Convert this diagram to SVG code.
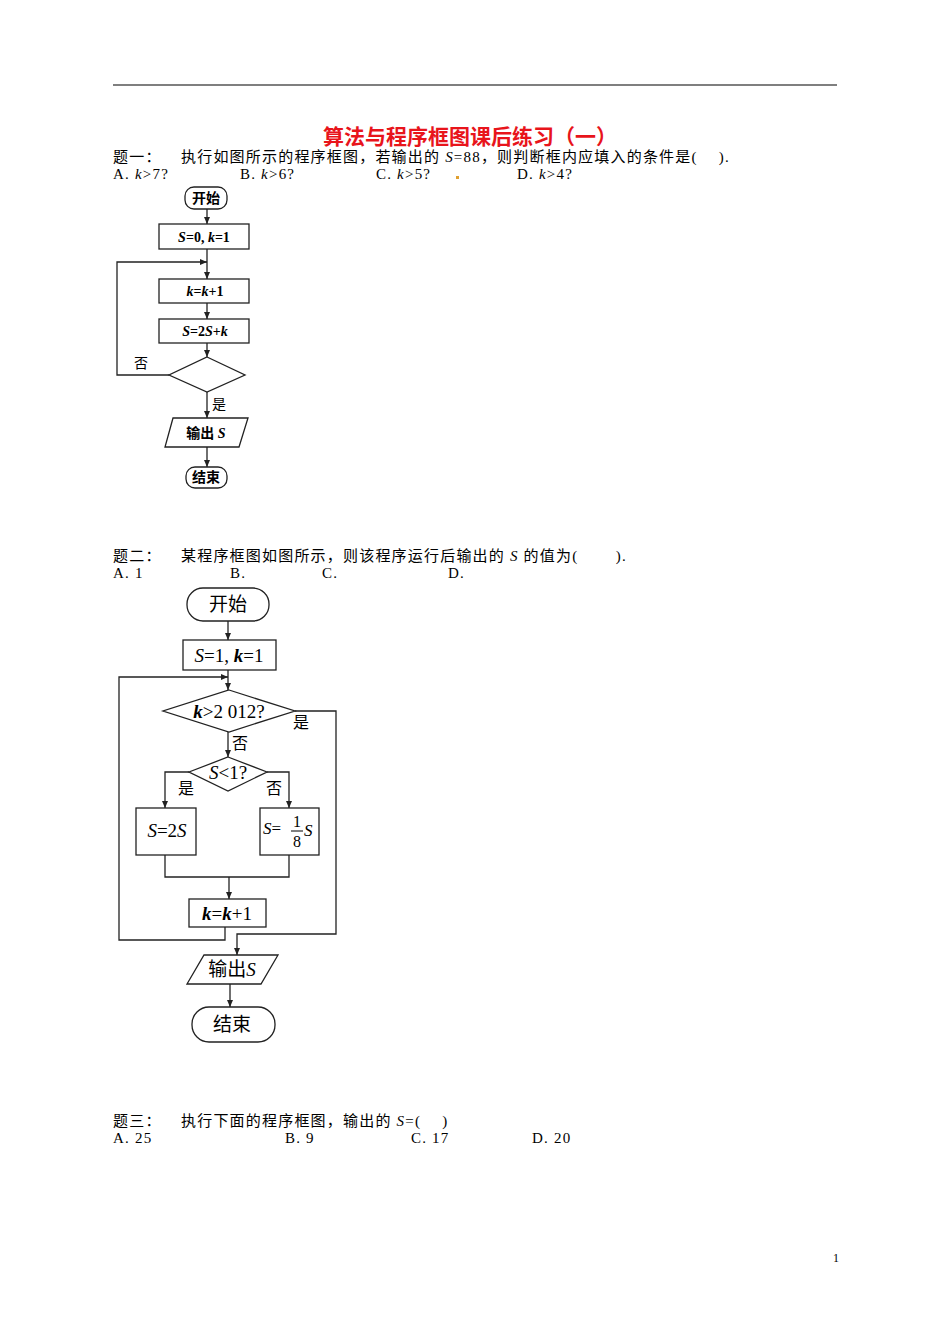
<svg xmlns="http://www.w3.org/2000/svg" width="950" height="1344" viewBox="0 0 950 1344">
<style>
text{font-family:"Liberation Serif","Noto Sans CJK SC",serif;fill:#000}
.b{font-size:15px;letter-spacing:1.2px}
.d1{font-size:14px;font-weight:bold}
.d2{font-size:19px}
.s{fill:#fff;stroke:#222;stroke-width:1.3}
.l{fill:none;stroke:#222;stroke-width:1.3}
</style>
<defs><marker id="a" markerWidth="8" markerHeight="8" refX="7" refY="4" orient="auto" markerUnits="userSpaceOnUse"><path d="M0,1 L7,4 L0,7 Z" fill="#222"/></marker></defs>
<rect width="950" height="1344" fill="#fff"/>
<line x1="113" y1="85" x2="837" y2="85" stroke="#000" stroke-width="1.2"/>
<text x="470" y="144" text-anchor="middle" style="font-size:21px;font-weight:bold;fill:#e8141b">算法与程序框图课后练习（一）</text>
<text class="b" x="113" y="162">题一：</text>
<text class="b" x="181" y="162">执行如图所示的程序框图，若输出的 <tspan font-style="italic">S</tspan>=88，则判断框内应填入的条件是(　  ).</text>
<text class="b" x="113" y="179">A. <tspan font-style="italic">k</tspan>&gt;7?</text>
<text class="b" x="240" y="179">B. <tspan font-style="italic">k</tspan>&gt;6?</text>
<text class="b" x="376" y="179">C. <tspan font-style="italic">k</tspan>&gt;5?</text>
<rect x="456" y="176" width="3" height="3" fill="#e0a030"/>
<text class="b" x="517" y="179">D.  <tspan font-style="italic">k</tspan>&gt;4?</text>

<g id="connectors1">
<line class="l" x1="207" y1="209" x2="207" y2="224" marker-end="url(#a)"/>
<line class="l" x1="207" y1="249" x2="207" y2="279" marker-end="url(#a)"/>
<polyline class="l" points="169,375 117,375 117,262 207,262" marker-end="url(#a)"/>
<line class="l" x1="207" y1="303" x2="207" y2="319" marker-end="url(#a)"/>
<line class="l" x1="207" y1="343" x2="207" y2="357" marker-end="url(#a)"/>
<line class="l" x1="207" y1="392" x2="207" y2="418" marker-end="url(#a)"/>
<line class="l" x1="207" y1="447" x2="207" y2="467" marker-end="url(#a)"/>
<text class="d1" x="134" y="368" style="font-weight:normal">否</text>
<text class="d1" x="212" y="409" style="font-weight:normal">是</text>
</g>
<g id="n1start"><rect class="s" x="185" y="187" width="42" height="22" rx="9"/><text class="d1" x="206" y="203" text-anchor="middle">开始</text></g>
<g id="n1init"><rect class="s" x="159" y="224" width="90" height="25"/><text class="d1" x="204" y="242" text-anchor="middle"><tspan font-style="italic">S</tspan>=0, <tspan font-style="italic">k</tspan>=1</text></g>
<g id="n1k"><rect class="s" x="159" y="279" width="90" height="24"/><text class="d1" x="205" y="296" text-anchor="middle"><tspan font-style="italic">k</tspan>=<tspan font-style="italic">k</tspan>+1</text></g>
<g id="n1s"><rect class="s" x="159" y="319" width="90" height="24"/><text class="d1" x="205" y="336" text-anchor="middle"><tspan font-style="italic">S</tspan>=2<tspan font-style="italic">S</tspan>+<tspan font-style="italic">k</tspan></text></g>
<g id="n1dec"><polygon class="s" points="207,357 245,375 207,392 169,375"/></g>
<g id="n1out"><polygon class="s" points="173,418 248,418 239,447 165,447"/><text class="d1" x="206" y="438" text-anchor="middle">输出 <tspan font-style="italic">S</tspan></text></g>
<g id="n1end"><rect class="s" x="186" y="467" width="41" height="21" rx="9"/><text class="d1" x="206" y="482" text-anchor="middle">结束</text></g>

<text class="b" x="113" y="561">题二：</text>
<text class="b" x="181" y="561">某程序框图如图所示，则该程序运行后输出的 <tspan font-style="italic">S</tspan> 的值为(　　 ).</text>
<text class="b" x="113" y="578">A. 1</text>
<text class="b" x="230" y="578">B.</text>
<text class="b" x="322" y="578">C.</text>
<text class="b" x="448" y="578">D.</text>

<g id="connectors2">
<line class="l" x1="228" y1="621" x2="228" y2="640" marker-end="url(#a)"/>
<line class="l" x1="228" y1="670" x2="228" y2="690" marker-end="url(#a)"/>
<polyline class="l" points="225,927 225,940 119,940 119,677 228,677" marker-end="url(#a)"/>
<polyline class="l" points="295,711 336,711 336,934 237,934 237,955" marker-end="url(#a)"/>
<line class="l" x1="228" y1="732" x2="228" y2="757" marker-end="url(#a)"/>
<polyline class="l" points="189,772 165,772 165,808" marker-end="url(#a)"/>
<polyline class="l" points="267,772 289,772 289,808" marker-end="url(#a)"/>
<polyline class="l" points="165,855 165,877 289,877 289,855"/>
<line class="l" x1="229" y1="877" x2="229" y2="899" marker-end="url(#a)"/>
<line class="l" x1="230" y1="984" x2="230" y2="1007" marker-end="url(#a)"/>
<text class="d2" x="293" y="728" style="font-size:16px">是</text>
<text class="d2" x="232" y="749" style="font-size:16px">否</text>
<text class="d2" x="178" y="794" style="font-size:16px">是</text>
<text class="d2" x="266" y="794" style="font-size:16px">否</text>
</g>
<g id="n2start"><rect class="s" x="187" y="588" width="82" height="33" rx="16"/><text class="d2" x="228" y="611" text-anchor="middle">开始</text></g>
<g id="n2init"><rect class="s" x="183" y="640" width="93" height="30"/><text class="d2" x="229" y="662" text-anchor="middle"><tspan font-style="italic">S</tspan>=1, <tspan font-style="italic" font-weight="bold">k</tspan>=1</text></g>
<g id="n2dec1"><polygon class="s" points="229,690 295,711 229,732 163,711"/><text class="d2" x="229" y="718" text-anchor="middle"><tspan font-style="italic" font-weight="bold">k</tspan>&gt;2 012?</text></g>
<g id="n2dec2"><polygon class="s" points="228,757 267,772 228,791 189,772"/><text class="d2" x="228" y="779" text-anchor="middle"><tspan font-style="italic">S</tspan>&lt;1?</text></g>
<g id="n2s2"><rect class="s" x="136" y="808" width="60" height="47"/><text class="d2" x="167" y="837" text-anchor="middle"><tspan font-style="italic">S</tspan>=2<tspan font-style="italic">S</tspan></text></g>
<g id="n2s8"><rect class="s" x="260" y="808" width="59" height="47"/><text class="d2" x="263" y="834" style="font-size:17px"><tspan font-style="italic">S</tspan>=</text><text class="d2" x="297" y="827" text-anchor="middle" style="font-size:16px">1</text><line x1="291" y1="831" x2="303" y2="831" stroke="#000" stroke-width="1"/><text class="d2" x="297" y="847" text-anchor="middle" style="font-size:16px">8</text><text class="d2" x="304" y="836" style="font-size:17px;font-style:italic">S</text></g>
<g id="n2k"><rect class="s" x="189" y="899" width="77" height="28"/><text class="d2" x="227" y="920" text-anchor="middle"><tspan font-style="italic" font-weight="bold">k</tspan>=<tspan font-style="italic" font-weight="bold">k</tspan>+1</text></g>
<g id="n2out"><polygon class="s" points="204,955 278,955 261,984 187,984"/><text class="d2" x="232" y="976" text-anchor="middle">输出<tspan font-style="italic">S</tspan></text></g>
<g id="n2end"><rect class="s" x="192" y="1007" width="83" height="35" rx="17"/><text class="d2" x="232" y="1031" text-anchor="middle">结束</text></g>

<text class="b" x="113" y="1126">题三：</text>
<text class="b" x="181" y="1126">执行下面的程序框图，输出的 <tspan font-style="italic">S</tspan>=(　  )</text>
<text class="b" x="113" y="1143">A. 25</text>
<text class="b" x="285" y="1143">B. 9</text>
<text class="b" x="411" y="1143">C. 17</text>
<text class="b" x="532" y="1143">D. 20</text>
<text x="833" y="1262" style="font-size:12px">1</text>
</svg>
